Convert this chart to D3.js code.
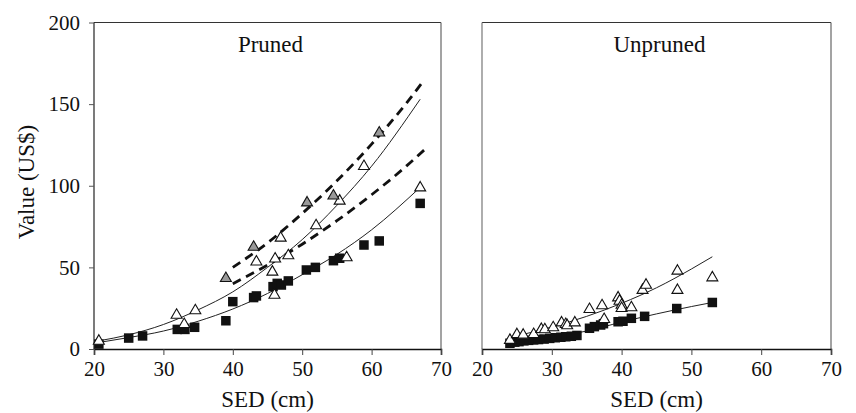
<!DOCTYPE html>
<html>
<head>
<meta charset="utf-8">
<script src="https://cdn.jsdelivr.net/npm/d3@7"></script>
<style>
  body { margin: 0; background: #fff; font-family: "Liberation Serif", serif; }
  svg { display: block; }
</style>
</head>
<body>
<svg id="chart" width="856" height="413" font-family="Liberation Serif"></svg>
<script>
// tick labels
var xTicks = [20, 30, 40, 50, 60, 70];
var yTicks = [0, 50, 100, 150, 200];

// Pruned panel - measured points [SED, value]
var prunedSquares = [[20.7, 3], [25, 6.7], [27, 8], [32, 12], [33.1, 12], [34.5, 13.3], [39, 17.3],
    [40, 29], [43, 31.5], [43.4, 32.5], [45.8, 38.2], [46.4, 40.2], [47, 39.2], [48, 41.7],
    [50.6, 48.4], [51.9, 50], [54.5, 54.1], [55.4, 55.6], [58.9, 63.7], [61.1, 66.2], [67, 89.2]];
var prunedOpen = [[20.7, 5.5], [31.9, 21.4], [33, 15.7], [34.6, 24.1], [43.4, 54], [45.7, 47.8],
    [46, 33.6], [46.1, 55.8], [46.9, 68.6], [48, 57.8], [52, 76.2], [55.4, 91.3], [56.4, 56.6],
    [58.9, 112.5], [67, 99.4]];
var prunedGrey = [[39, 43.9], [43, 63], [50.7, 90.2], [54.5, 94.4], [61.1, 133]];

// Pruned panel - fitted curves
var prunedUpperFit = [[20.7, 5], [25, 8.7], [30, 15], [35, 24], [40, 35], [45, 50], [50, 67], [55, 88], [60, 112], [67, 153]];
var prunedLowerFit = [[20.7, 4], [25, 7], [30, 11], [35, 17], [40, 24.5], [45, 34], [50, 45.5], [55, 58], [60, 73], [67, 99]];
var prunedUpperDash = [[40, 50], [45, 65], [50, 83], [55, 103], [60, 125.5], [65, 150.5], [67.6, 165]];
var prunedLowerDash = [[40, 40], [45, 51.4], [50, 64.2], [55, 78.6], [60, 94.5], [65, 112], [67.6, 122]];

// Unpruned panel - measured points
var unprunedSquares = [[24, 3.5], [24.7, 4.2], [25.3, 4.5], [26, 5], [26.7, 5.3], [27.4, 5.6], [28.1, 5.8],
    [28.9, 6.1], [29.7, 6.5], [30.5, 6.9], [31.3, 7.2], [32, 7.5], [32.8, 7.8], [33.6, 8.3],
    [35.4, 12.7], [36.1, 13.7], [37, 14.7], [37.4, 15.5], [39.5, 16.7], [40.2, 17], [41.4, 18.8],
    [43.3, 20], [47.9, 24.8], [53, 28.5]];
var unprunedOpen = [[24, 6], [25, 9.5], [25.9, 9.2], [27.4, 9.6], [28.5, 12.7], [29, 12.5], [30.2, 13.7],
    [31.4, 16.7], [32, 15.7], [32.2, 15], [33.3, 16.7], [35.4, 24.9], [37.2, 27.2], [37.5, 18.8],
    [39.5, 32], [39.7, 30], [40, 27.5], [40, 25.5], [41.4, 26], [43, 36.6], [43.5, 39.8],
    [48, 48.4], [48, 36.6], [53, 44.3]];
var unprunedUpperFit = [[24, 7], [30, 13.5], [35, 20], [40, 28], [45, 37.5], [50, 49], [53, 56.5]];
var unprunedLowerFit = [[24, 4], [30, 7.5], [35, 11], [40, 16.5], [45, 21.5], [50, 26], [53, 28.5]];

var FONT = "Liberation Serif";
var svg = d3.select("#chart");

var y = d3.scaleLinear().domain([0, 200]).range([349, 22.5]);

function drawPanel(left, right, title, opts) {
    var x = d3.scaleLinear().domain([20, 70]).range([left, right]);
    var g = svg.append("g");

    // box
    g.append("line").attr("x1", left).attr("x2", right).attr("y1", y(200)).attr("y2", y(200))
        .attr("stroke", "#333").attr("stroke-width", 1.2);
    g.append("line").attr("x1", right).attr("x2", right).attr("y1", y(200)).attr("y2", y(0))
        .attr("stroke", "#666").attr("stroke-width", 1.2);
    g.append("line").attr("x1", left).attr("x2", left).attr("y1", y(200)).attr("y2", y(0))
        .attr("stroke", opts.yAxis ? "#222" : "#777").attr("stroke-width", 1.2);

    // x axis
    var xAxis = g.append("g").attr("transform", "translate(0," + y(0) + ")")
        .call(d3.axisBottom(x).tickValues(xTicks).tickSize(6).tickPadding(6).tickFormat(d3.format("d")));
    xAxis.attr("font-family", FONT).attr("font-size", 21);
    xAxis.select(".domain").attr("stroke", "#111").attr("stroke-width", 1.6);
    xAxis.selectAll(".tick line").attr("stroke", "#444");
    xAxis.selectAll("text").attr("fill", "#111");

    if (opts.yAxis) {
        var yAxis = g.append("g").attr("transform", "translate(" + left + ",0)")
            .call(d3.axisLeft(y).tickValues(yTicks).tickSize(5).tickPadding(9));
        yAxis.attr("font-family", FONT).attr("font-size", 21);
        yAxis.select(".domain").remove();
        yAxis.selectAll(".tick line").attr("stroke", "#555");
        yAxis.selectAll("text").attr("fill", "#111");
    }

    // panel title
    g.append("text").attr("x", (left + right) / 2 + 3).attr("y", 52)
        .attr("text-anchor", "middle").attr("font-family", FONT).attr("font-size", 23)
        .attr("fill", "#111").text(title);

    // x axis title
    g.append("text").attr("x", (left + right) / 2).attr("y", 407)
        .attr("text-anchor", "middle").attr("font-family", FONT).attr("font-size", 23)
        .attr("fill", "#111").text("SED (cm)");

    var line = d3.line().x(function (d) { return x(d[0]); }).y(function (d) { return y(d[1]); })
        .curve(d3.curveMonotoneX);

    // fitted lines
    (opts.solid || []).forEach(function (pts) {
        g.append("path").datum(pts).attr("d", line).attr("fill", "none")
            .attr("stroke", "#222").attr("stroke-width", 1);
    });
    (opts.dashed || []).forEach(function (pts) {
        g.append("path").datum(pts).attr("d", line).attr("fill", "none")
            .attr("stroke", "#111").attr("stroke-width", 2.8).attr("stroke-dasharray", "9,6");
    });

    // markers
    var sq = 9.5;
    g.selectAll(".sq").data(opts.squares).enter().append("rect")
        .attr("x", function (d) { return x(d[0]) - sq / 2; })
        .attr("y", function (d) { return y(d[1]) - sq / 2; })
        .attr("width", sq).attr("height", sq).attr("fill", "#111");

    var tri = d3.symbol().type(d3.symbolTriangle).size(52);
    function triangles(data, fill) {
        g.selectAll(null).data(data).enter().append("path")
            .attr("d", tri)
            .attr("transform", function (d) { return "translate(" + x(d[0]) + "," + (y(d[1]) + 1) + ")"; })
            .attr("fill", fill).attr("stroke", "#111").attr("stroke-width", 1.1);
    }
    triangles(opts.open, "#fff");
    if (opts.grey) triangles(opts.grey, "#999");
}

drawPanel(94, 441, "Pruned", {
    yAxis: true,
    squares: prunedSquares,
    open: prunedOpen,
    grey: prunedGrey,
    solid: [prunedUpperFit, prunedLowerFit],
    dashed: [prunedUpperDash, prunedLowerDash]
});

drawPanel(482, 831, "Unpruned", {
    yAxis: false,
    squares: unprunedSquares,
    open: unprunedOpen,
    solid: [unprunedUpperFit, unprunedLowerFit]
});

// y axis title
svg.append("text").attr("transform", "translate(34,182) rotate(-90)")
    .attr("text-anchor", "middle").attr("font-family", FONT).attr("font-size", 23)
    .attr("fill", "#111").text("Value (US$)");
</script>
</body>
</html>
